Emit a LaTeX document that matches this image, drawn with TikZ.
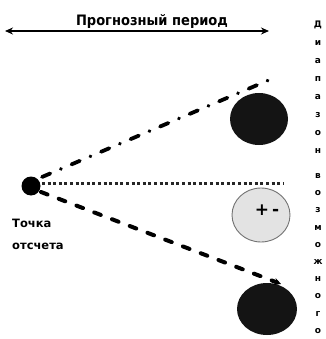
\documentclass[tikz,border=0pt]{standalone}
\usepackage{fontspec}
\setmainfont{DejaVu Sans}
\usetikzlibrary{arrows.meta,shapes.geometric}
\begin{document}
\begin{tikzpicture}[x=1pt,y=-1pt,
  blob/.style={ellipse,fill=black!92,inner sep=0pt},
  lbl/.style={font=\bfseries\fontsize{11.5}{12}\selectfont,inner sep=0pt,anchor=west},
  vlet/.style={font=\bfseries\fontsize{9}{9}\selectfont,inner sep=0pt}]
\clip (0,0) rectangle (325,339);
\fill[white] (0,0) rectangle (325,339);
% top period arrow
\coordinate (pl) at (5,31);
\coordinate (pr) at (269,31);
\draw[line width=1.7pt,{Stealth[length=8pt,width=7pt]}-{Stealth[length=8pt,width=7pt]}] (pl) -- (pr);
\node (title) [inner sep=0pt,anchor=base] at (152,26) {\resizebox{152pt}{11pt}{\bfseries Прогнозный период}};
% reference point
\node (pt) [circle,fill=black,minimum size=19pt,inner sep=0pt] at (31,186) {};
\node (t1) [lbl] at (12,223) {Точка};
\node (t2) [lbl] at (12,246) {отсчета};
% outcomes
\node (up) [blob,minimum width=58pt,minimum height=52pt] at (259,119) {};
\node (mid) [ellipse,fill=black!11,draw=black!55,line width=0.9pt,minimum width=58pt,minimum height=54pt,inner sep=0pt] at (261,215) {};
\node (pm) [font=\bfseries\fontsize{17}{18}\selectfont,inner sep=0pt] at (267,210) {+\,-};
\node (low) [blob,minimum width=60pt,minimum height=52pt] at (267,309) {};
% connectors
\coordinate (a1) at (42,177);
\coordinate (a2) at (276,77);
\draw[line width=3.8pt,line cap=round,dash pattern=on 9pt off 11.5pt on 0.1pt off 11.5pt] (a1) -- (a2);
\coordinate (b1) at (42,183);
\coordinate (b2) at (283,183);
\draw[line width=3pt,dash pattern=on 3pt off 2.6pt,black!85] (b1) -- (b2);
\coordinate (c1) at (41,192);
\coordinate (c2) at (281,284);
\draw[line width=4pt,line cap=round,dash pattern=on 7pt off 12pt,-{Stealth[length=7pt,width=7pt]}] (c1) -- (c2);
% vertical label
\foreach \l [count=\i from 0] in {Д,и,а,п,а,з,о,н}
  \node[vlet] (va\i) at (318,25+18*\i) {\l};
\foreach \l [count=\i from 0] in {в,о,з,м,о,ж,н,о,г,о}
  \node[vlet] (vb\i) at (318,176+17.2*\i) {\l};
\end{tikzpicture}
\end{document}
